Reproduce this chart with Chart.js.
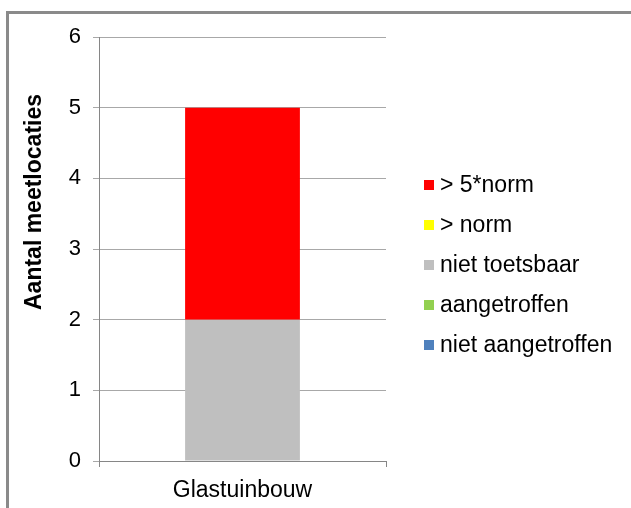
<!DOCTYPE html>
<html lang="nl">
<head>
    <meta charset="UTF-8">
    <title>Aantal meetlocaties - Glastuinbouw</title>
    <script src="https://cdn.jsdelivr.net/npm/chart.js"></script>
    <style>
        body {
            margin: 0;
            padding: 0;
            background: #fff;
            overflow: hidden;
        }
        .frame {
            position: absolute;
            left: 6px;
            top: 11px;
            width: 700px;
            height: 600px;
            border: 3px solid #8a8a8a;
        }
        #chart {
            position: absolute;
            left: 0;
            top: 0;
        }
    </style>
</head>
<body>
    <div class="frame"></div>
    <canvas id="chart" width="631" height="508"></canvas>

    <script>
        // data
        const categories = ['Glastuinbouw'];
        const seriesLabels = ['niet aangetroffen', 'aangetroffen', 'niet toetsbaar', '> norm', '> 5*norm'];
        const nietAangetroffen = [0];
        const aangetroffen = [0];
        const nietToetsbaar = [2];
        const boveNorm = [0];
        const bove5Norm = [3];
        const yMin = 0;
        const yMax = 6;
        const yStep = 1;
        const yTitle = 'Aantal meetlocaties';

        const colors = ['#4f81bd', '#92d050', '#bfbfbf', '#ffff00', '#ff0000'];
        const values = [nietAangetroffen, aangetroffen, nietToetsbaar, boveNorm, bove5Norm];
        const fontFamily = '"Liberation Sans", Arial, sans-serif';

        // legend on the right, drawn top-down in reverse series order
        const sideLegend = {
            id: 'sideLegend',
            afterDraw(chart) {
                const ctx = chart.ctx;
                const sets = chart.data.datasets.slice().reverse();
                ctx.save();
                ctx.font = '23px ' + fontFamily;
                ctx.textBaseline = 'middle';
                ctx.textAlign = 'left';
                sets.forEach((ds, i) => {
                    const y = 185 + i * 40;
                    ctx.fillStyle = ds.backgroundColor;
                    ctx.fillRect(424, y - 5, 10, 10);
                    ctx.fillStyle = '#000';
                    ctx.fillText(ds.label, 440, y + 1);
                });
                ctx.restore();
            }
        };

        // y title sits higher than the axis centre, so it is drawn by hand
        const yAxisTitle = {
            id: 'yAxisTitle',
            afterDraw(chart) {
                const ctx = chart.ctx;
                ctx.save();
                ctx.translate(35, 202);
                ctx.rotate(-Math.PI / 2);
                ctx.font = 'bold 23px ' + fontFamily;
                ctx.fillStyle = '#000';
                ctx.textAlign = 'center';
                ctx.textBaseline = 'middle';
                ctx.fillText(yTitle, 0, 0);
                ctx.restore();
            }
        };

        new Chart(document.getElementById('chart'), {
            type: 'bar',
            data: {
                labels: categories,
                datasets: seriesLabels.map((label, i) => ({
                    label: label,
                    data: values[i],
                    backgroundColor: colors[i],
                    borderWidth: 0,
                    barPercentage: 0.4,
                    categoryPercentage: 1.0
                }))
            },
            options: {
                responsive: false,
                animation: false,
                devicePixelRatio: 1,
                layout: {
                    padding: { top: 37, right: 245, bottom: 0, left: 0 }
                },
                plugins: {
                    legend: { display: false },
                    tooltip: { enabled: false }
                },
                scales: {
                    x: {
                        stacked: true,
                        grid: {
                            display: true,
                            drawOnChartArea: false,
                            drawTicks: true,
                            tickLength: 6,
                            color: '#868686'
                        },
                        border: { color: '#868686' },
                        ticks: {
                            color: '#000',
                            padding: 10,
                            font: { family: fontFamily, size: 23 }
                        },
                        afterFit: function (scale) {
                            scale.height = 47;
                        }
                    },
                    y: {
                        stacked: true,
                        min: yMin,
                        max: yMax,
                        ticks: {
                            stepSize: yStep,
                            color: '#000',
                            padding: 12,
                            font: { family: fontFamily, size: 22 }
                        },
                        grid: {
                            color: '#a8a8a8',
                            tickLength: 6,
                            drawTicks: true
                        },
                        border: { color: '#868686' },
                        afterFit: function (scale) {
                            scale.width = 99;
                        }
                    }
                }
            },
            plugins: [sideLegend, yAxisTitle]
        });
    </script>
</body>
</html>
